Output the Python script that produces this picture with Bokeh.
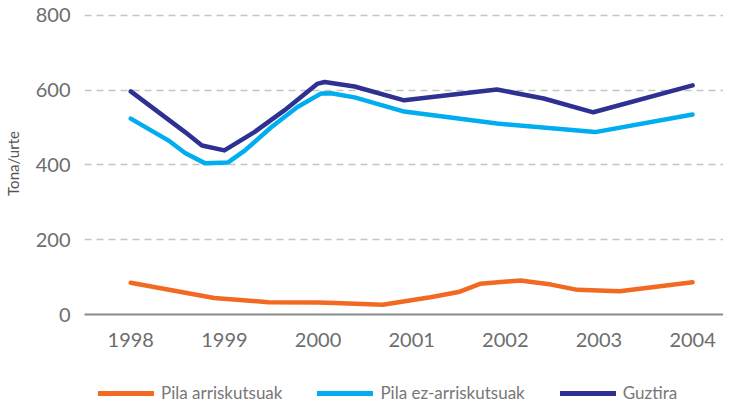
from bokeh.plotting import figure
from bokeh.layouts import column
from bokeh.models import Range1d, FixedTicker, Legend, LegendItem
from bokeh.embed import file_html
from bokeh.resources import INLINE

# ---- data ----
years_ticks = [1998, 1999, 2000, 2001, 2002, 2003, 2004]
y_ticks = [0, 200, 400, 600, 800]

arr_x = [1998, 1998.89, 1999.47, 2000.0, 2000.18, 2000.69, 2001.2, 2001.5, 2001.73, 2002.16, 2002.49, 2002.77, 2003.22, 2004]
arr_y = [85, 44, 33, 32, 31, 26, 46, 60, 82, 91, 80, 66, 62, 86]

ez_x = [1998, 1998.4, 1998.58, 1998.79, 1999.04, 1999.22, 1999.5, 1999.78, 2000.03, 2000.14, 2000.39, 2000.92, 2001.91, 2002.96, 2004]
ez_y = [524, 466, 432, 405, 407, 439, 501, 555, 591, 592, 581, 543, 511, 488, 535]

tot_x = [1998, 1998.58, 1998.76, 1999.0, 1999.32, 1999.64, 1999.99, 2000.07, 2000.39, 2000.92, 2001.91, 2002.41, 2002.94, 2004]
tot_y = [597, 488, 452, 439, 488, 546, 617, 622, 610, 573, 602, 578, 541, 613]

names = ["Pila arriskutsuak", "Pila ez-arriskutsuak", "Guztira"]
colors = ["#f26a22", "#00aeef", "#2e3192"]
series = [(arr_x, arr_y), (ez_x, ez_y), (tot_x, tot_y)]

FONT = "Lato"

# ---- main chart ----
p = figure(width=723, height=355, output_backend="svg", toolbar_location=None,
           x_range=Range1d(1997.506, 2004.33), y_range=Range1d(0, 808),
           min_border_left=81, min_border_right=0, min_border_top=12, min_border_bottom=41)
p.outline_line_color = None
p.background_fill_color = "white"
p.border_fill_color = "white"

for (xs, ys), c in zip(series, colors):
    p.line(xs, ys, line_color=c, line_width=4.5, line_cap="round", line_join="round")

p.xaxis.ticker = FixedTicker(ticks=years_ticks)
p.xaxis.major_tick_line_color = None
p.xaxis.minor_tick_line_color = None
p.xaxis.axis_line_color = "#8a8a8a"
p.xaxis.axis_line_width = 2
p.xaxis.major_label_text_font = FONT
p.xaxis.major_label_text_font_size = "20px"
p.xaxis.major_label_text_color = "#6d6d6d"
p.xaxis.major_label_standoff = 12

p.yaxis.ticker = FixedTicker(ticks=y_ticks)
p.yaxis.major_tick_line_color = None
p.yaxis.minor_tick_line_color = None
p.yaxis.axis_line_color = None
p.yaxis.major_label_text_font = FONT
p.yaxis.major_label_text_font_size = "20px"
p.yaxis.major_label_text_color = "#6d6d6d"
p.yaxis.major_label_standoff = 8
p.yaxis.axis_label = "Tona/urte"
p.yaxis.axis_label_text_font = FONT
p.yaxis.axis_label_text_font_style = "normal"
p.yaxis.axis_label_text_font_size = "15px"
p.yaxis.axis_label_text_color = "#555555"
p.yaxis.axis_label_standoff = 11

p.xgrid.grid_line_color = None
p.ygrid.grid_line_color = "#c4c4c4"
p.ygrid.grid_line_width = 1.5
p.ygrid.grid_line_dash = "7 5"

# ---- legend strip (same series, outside this strip's view, only feed the legend) ----
p2 = figure(width=723, height=48, output_backend="svg", toolbar_location=None,
            x_range=Range1d(0, 1), y_range=Range1d(0, 1),
            x_axis_location=None, y_axis_location=None,
            min_border_left=81, min_border_right=0, min_border_top=13, min_border_bottom=0)
p2.outline_line_color = None
p2.grid.visible = False
p2.border_fill_color = "white"

proxies = [p2.line(xs, ys, line_color=c, line_width=5, line_cap="round")
           for (xs, ys), c in zip(series, colors)]

legend = Legend(items=[LegendItem(label=n, renderers=[r]) for n, r in zip(names, proxies)],
                orientation="horizontal", location="top_left",
                glyph_width=56, glyph_height=18, label_height=18, label_standoff=7, spacing=35,
                padding=0, margin=14, border_line_color=None, background_fill_alpha=0,
                label_text_font=FONT, label_text_font_size="17px", label_text_color="#777777")
p2.add_layout(legend, "center")

layout = column(p, p2, spacing=0)
open("out.html", "w").write(file_html(layout, INLINE))
